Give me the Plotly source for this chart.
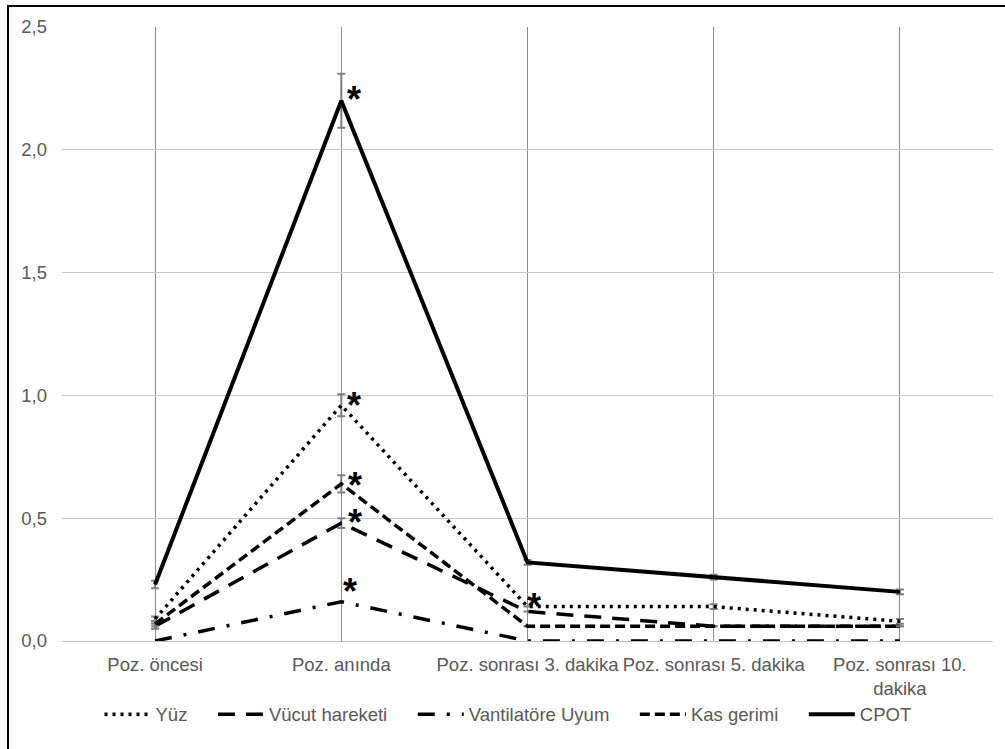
import plotly.graph_objects as go

# Categories (positioning moments) and mean scores per CPOT sub-dimension
categories = ["Poz. öncesi", "Poz. anında", "Poz. sonrası 3. dakika",
              "Poz. sonrası 5. dakika", "Poz. sonrası 10. dakika"]
category_labels = ["Poz. öncesi", "Poz. anında", "Poz. sonrası 3. dakika",
                   "Poz. sonrası 5. dakika", "Poz. sonrası 10.<br>dakika"]

series_names = ["Yüz", "Vücut hareketi", "Vantilatöre Uyum", "Kas gerimi", "CPOT"]

yuz = [0.09, 0.96, 0.14, 0.14, 0.08]
yuz_err = [0.01, 0.045, 0.0, 0.01, 0.01]

vucut = [0.06, 0.48, 0.12, 0.06, 0.06]
vucut_err = [0.01, 0.02, 0.0, 0.0, 0.0]

vantilator = [0.0, 0.16, 0.0, 0.0, 0.0]

kas = [0.07, 0.64, 0.06, 0.06, 0.06]
kas_err = [0.01, 0.035, 0.0, 0.0, 0.0]

cpot = [0.23, 2.2, 0.32, 0.26, 0.20]
cpot_err = [0.015, 0.11, 0.01, 0.01, 0.01]

# Significance markers: (category index, series values)
stars = [(1, cpot), (1, yuz), (1, kas), (1, vucut), (1, vantilator), (2, yuz)]
# pixel offsets of each marker from its point (right, up)
star_offsets = [(13, 8), (13, 7), (14, 5), (14, 8), (9, 17), (6, 7)]

y_ticks = [0.0, 0.5, 1.0, 1.5, 2.0, 2.5]

ERR_COLOR = "#7f7f7f"
TEXT_COLOR = "#595959"
FONT = "Liberation Sans, Arial"
FS = 18.5
PAD = "\u00a0" * 4  # spacing after each legend label


def err(values):
    return dict(type="data", array=values, visible=True,
                color=ERR_COLOR, thickness=2, width=4)


line_styles = [
    dict(color="black", width=3.5, dash="3px,5px"),
    dict(color="black", width=3.5, dash="17px,11px"),
    dict(color="black", width=3.5, dash="17px,12px,3px,12px"),
    dict(color="black", width=3.5, dash="10px,5px"),
    dict(color="black", width=4),
]
values = [yuz, vucut, vantilator, kas, cpot]
errors = [yuz_err, vucut_err, None, kas_err, cpot_err]

fig = go.Figure()
for i, (name, vals, errs, style) in enumerate(zip(series_names, values, errors, line_styles)):
    label = name if i == len(series_names) - 1 else name + PAD
    fig.add_trace(go.Scatter(
        x=categories, y=vals, name=label, mode="lines", line=style,
        error_y=err(errs) if errs is not None else None))

annotations = []
for (idx, series), (dx, dy) in zip(stars, star_offsets):
    annotations.append(dict(
        x=categories[idx], y=series[idx], xref="x", yref="y",
        text="<b>*</b>", showarrow=False,
        font=dict(family=FONT, size=36, color="black"),
        xanchor="center", yanchor="middle",
        xshift=dx, yshift=dy - 7))

fig.update_layout(
    width=1005, height=749,
    margin=dict(l=62, r=12, t=27, b=108),
    paper_bgcolor="white", plot_bgcolor="white",
    separators=",.",
    font=dict(family=FONT, size=FS, color=TEXT_COLOR),
    showlegend=True,
    legend=dict(orientation="h", x=(508 - 62) / 931, xanchor="center",
                y=-0.12, yanchor="middle",
                font=dict(family=FONT, size=FS, color=TEXT_COLOR),
                itemwidth=46, tracegroupgap=0),
    annotations=annotations,
    shapes=[dict(type="rect", xref="paper", yref="paper",
                 x0=(8 - 62) / 931, x1=(1012 - 62) / 931,
                 y0=(641 - 760) / 614, y1=1 + (27 - 6) / 614,
                 line=dict(color="black", width=2), layer="below")],
)

fig.update_xaxes(
    type="category", range=[-0.5, 4.5],
    tickvals=categories, ticktext=category_labels, tickangle=0,
    showgrid=True, gridcolor="#8c8c8c", gridwidth=1,
    showline=True, linecolor="#bfbfbf", linewidth=1,
    ticks="", ticklabelstandoff=7,
    tickfont=dict(family=FONT, size=FS, color=TEXT_COLOR),
    zeroline=False)

fig.update_yaxes(
    range=[0, 2.5], tickvals=y_ticks, tickformat=".1f",
    showgrid=True, gridcolor="#c8c8c8", gridwidth=1,
    showline=False, zeroline=False, ticks="",
    ticklabelstandoff=14,
    tickfont=dict(family=FONT, size=FS, color=TEXT_COLOR))

fig.write_html("out.html")
